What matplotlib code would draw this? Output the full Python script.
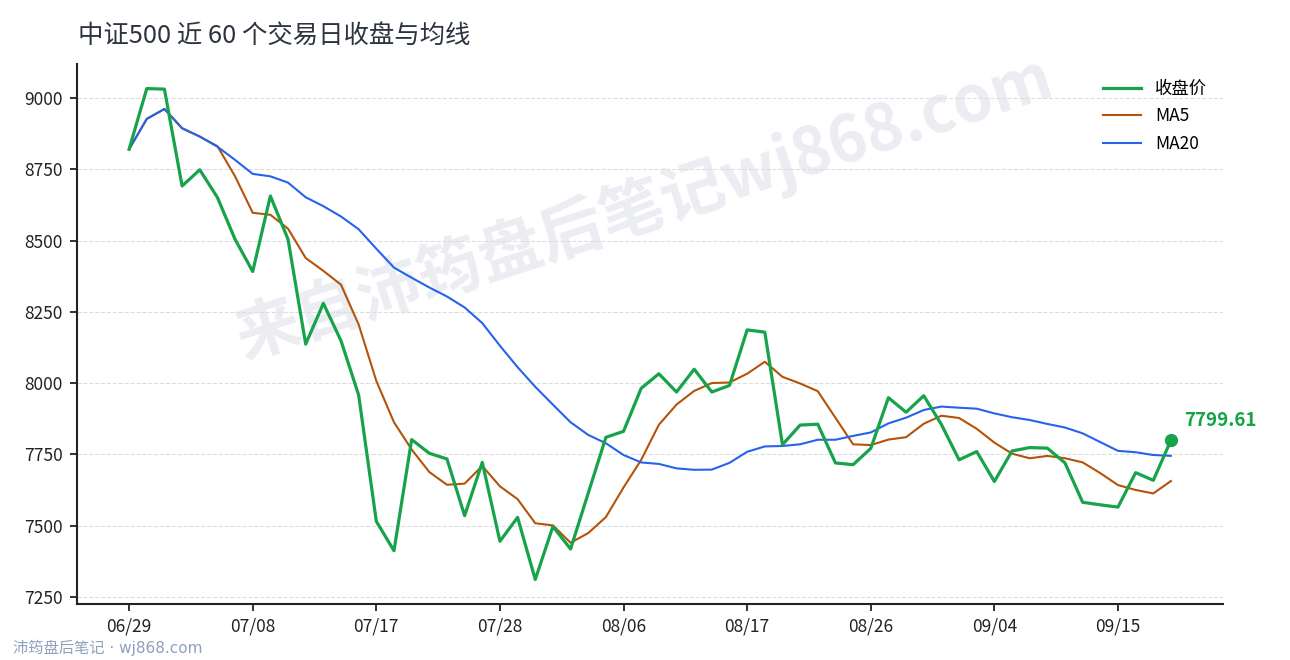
import matplotlib
matplotlib.use('Agg')
import matplotlib.pyplot as plt
from matplotlib.ticker import MultipleLocator

plt.rcParams['font.family'] = ['Noto Sans CJK SC', 'DejaVu Sans']

# 近 60 个交易日
dates = ['06/29', '06/30', '07/01', '07/02', '07/03', '07/06', '07/07', '07/08', '07/09', '07/10',
         '07/13', '07/14', '07/15', '07/16', '07/17', '07/20', '07/21', '07/22', '07/23', '07/24',
         '07/27', '07/28', '07/29', '07/30', '07/31', '08/03', '08/04', '08/05', '08/06', '08/07',
         '08/10', '08/11', '08/12', '08/13', '08/14', '08/17', '08/18', '08/19', '08/20', '08/21',
         '08/24', '08/25', '08/26', '08/27', '08/28', '08/31', '09/01', '09/02', '09/03', '09/04',
         '09/07', '09/08', '09/09', '09/10', '09/11', '09/14', '09/15', '09/16', '09/17', '09/18']

close = [8821, 9034, 9032, 8692, 8749, 8652, 8505, 8392, 8657, 8505,
         8137, 8280, 8149, 7958, 7515, 7412, 7802, 7754, 7734, 7535,
         7722, 7445, 7529, 7311, 7497, 7418, 7614, 7810, 7831, 7982,
         8033, 7969, 8049, 7969, 7992, 8187, 8179, 7784, 7853, 7856,
         7720, 7714, 7771, 7949, 7898, 7956, 7855, 7731, 7760, 7655,
         7762, 7774, 7772, 7720, 7582, 7573, 7565, 7686, 7659, 7799.61]

ma5 = [8821.0, 8927.5, 8962.3, 8894.8, 8865.6, 8831.8, 8726.0, 8598.0, 8591.0, 8542.2,
       8439.2, 8394.2, 8345.6, 8205.8, 8007.8, 7862.8, 7767.2, 7688.2, 7643.4, 7647.4,
       7709.4, 7638.0, 7593.0, 7508.4, 7500.8, 7440.0, 7473.8, 7530.0, 7634.0, 7731.0,
       7854.0, 7925.0, 7972.8, 8000.4, 8002.4, 8033.2, 8075.2, 8022.2, 7999.0, 7971.8,
       7878.4, 7785.4, 7782.8, 7802.0, 7810.4, 7857.6, 7885.8, 7877.8, 7840.0, 7791.4,
       7752.6, 7736.4, 7744.6, 7736.6, 7722.0, 7684.2, 7642.4, 7625.2, 7613.0, 7656.6]

ma20 = [8821.0, 8927.5, 8962.3, 8894.8, 8865.6, 8830.0, 8783.6, 8734.6, 8726.0, 8703.9,
        8652.4, 8621.3, 8585.0, 8540.2, 8471.9, 8405.6, 8370.1, 8335.9, 8304.2, 8265.8,
        8210.8, 8131.4, 8056.2, 7987.2, 7924.6, 7862.9, 7818.3, 7789.2, 7747.9, 7721.8,
        7716.6, 7701.0, 7696.0, 7696.6, 7720.4, 7759.2, 7778.0, 7779.5, 7785.5, 7801.5,
        7801.4, 7814.9, 7827.0, 7858.9, 7878.9, 7905.8, 7917.9, 7913.9, 7910.4, 7894.0,
        7880.5, 7870.7, 7856.9, 7844.4, 7823.9, 7793.2, 7762.5, 7757.6, 7747.9, 7745.1]

x = list(range(len(dates)))

fig = plt.figure(figsize=(12.9, 6.6), dpi=100)
ax = fig.add_axes([0.0597, 0.0848, 0.8884, 0.8182])

# 水印
ax.text(0.495, 0.735, '来自沛筠盘后笔记wj868.com', transform=ax.transAxes,
        fontsize=46, fontweight='bold', color='#ebedf2', rotation=18,
        ha='center', va='center', zorder=0.3, clip_on=False)

ax.plot(x, close, color='#16a34a', lw=2.3, label='收盘价', zorder=4)
ax.plot(x, ma5, color='#b45309', lw=1.5, label='MA5', zorder=3)
ax.plot(x, ma20, color='#2563eb', lw=1.5, label='MA20', zorder=3)

# 最新收盘
ax.plot(x[-1], close[-1], 'o', color='#16a34a', ms=8.5, zorder=5)
ax.annotate(f'{close[-1]:.2f}', (x[-1], close[-1]), xytext=(9.5, 14),
            textcoords='offset points', color='#16a34a', fontsize=13.5,
            fontweight='bold', ha='left', va='center')

ax.set_xticks(x[::7])
ax.set_xticklabels(dates[::7])
ax.yaxis.set_major_locator(MultipleLocator(250))
ax.tick_params(labelsize=12.5, colors='#222222', length=5, width=1.3, pad=5)
ax.set_axisbelow(True)
ax.grid(axis='y', ls='--', color='#dddddd', lw=0.8)
for s in ['top', 'right']:
    ax.spines[s].set_visible(False)
for s in ['left', 'bottom']:
    ax.spines[s].set_linewidth(1.5)
    ax.spines[s].set_color('#222222')

ax.legend(loc='upper right', frameon=False, fontsize=12.5, handlelength=2.2,
          labelspacing=0.55)

fig.text(78 / 1290, 1 - 36 / 660, '中证500 近 60 个交易日收盘与均线', fontsize=18.3,
         color='#2d3440', ha='left', va='center')
fig.text(13 / 1290, 1 - 648 / 660, '沛筠盘后笔记 · wj868.com', fontsize=11,
         family=['DejaVu Sans', 'Noto Sans CJK SC'],
         color='#8fa0bb', ha='left', va='center')

fig.savefig('out.png', dpi=100)
